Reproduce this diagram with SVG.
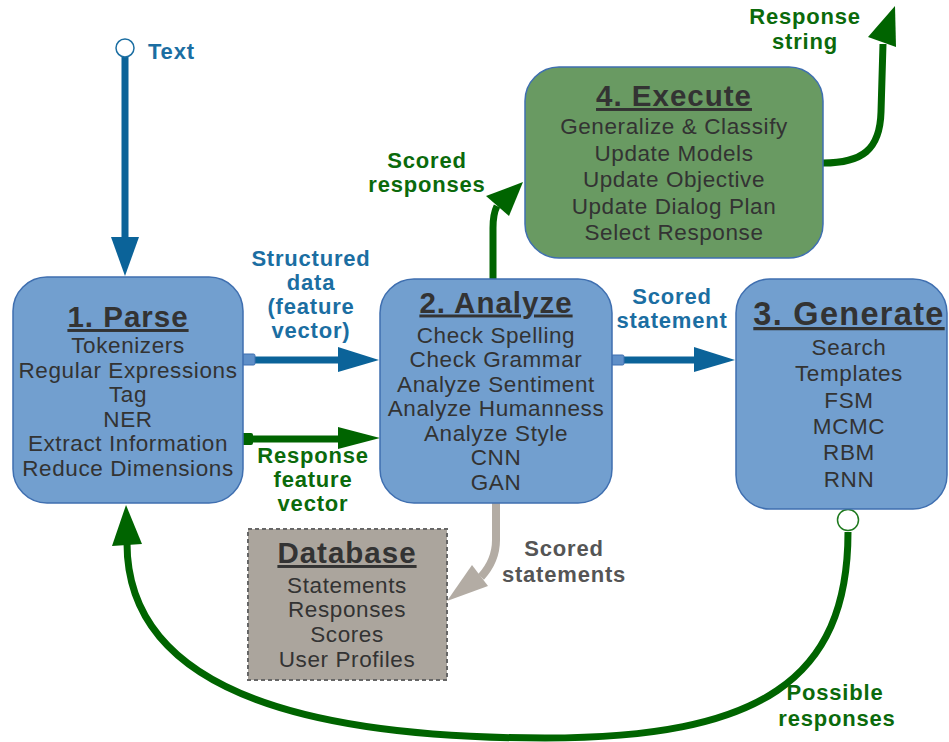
<svg xmlns="http://www.w3.org/2000/svg" width="949" height="742" viewBox="0 0 949 742">
<style>
.box{fill:#729fcf;stroke:#3f6fb0;stroke-width:1.5}
.ex{fill:#699a62;stroke:#3f6fb0;stroke-width:1.5}
.db{fill:#aba59d;stroke:#666;stroke-width:2;stroke-dasharray:4 3}
.t{font-family:"Liberation Sans",Arial,sans-serif;font-weight:bold;font-size:29.5px;letter-spacing:1px;fill:#333;text-anchor:middle;text-decoration:underline}
.b{font-family:"Liberation Sans",Arial,sans-serif;font-size:22.5px;letter-spacing:0.6px;fill:#333;text-anchor:middle}
.lb{font-family:"Liberation Sans",Arial,sans-serif;font-weight:bold;font-size:22px;letter-spacing:0.8px;text-anchor:middle}
.blue{fill:#1b6ea2}
.green{fill:#0b6a0b}
.gray{fill:#555}
.sb{stroke:#0b6399;fill:none;stroke-width:7}
.sg{stroke:#006400;fill:none;stroke-width:7}
.sgr{stroke:#b3aca4;fill:none;stroke-width:8}
</style>

<g id="connectors">
  <g id="c-text">
    <line class="sb" x1="125" y1="57" x2="125" y2="240" stroke-width="8"/>
    <polygon points="111,237 139,237 125,276" fill="#0b6399"/>
    <circle cx="125" cy="48" r="9" fill="#fff" stroke="#1b6ea2" stroke-width="1.5"/>
  </g>
  <g id="c-struct">
    <line class="sb" x1="250" y1="360" x2="340" y2="360" stroke-width="6"/>
    <rect x="242" y="354" width="13" height="11" rx="1.5" fill="#5f8fc8" stroke="#3f6fb0" stroke-width="1"/>
    <polygon points="338,347 379,360 338,372" fill="#0b6399"/>
  </g>
  <g id="c-rfv">
    <line class="sg" x1="244" y1="439" x2="340" y2="439" stroke-width="8"/>
    <rect x="241" y="433" width="12" height="12" rx="2" fill="#006400"/>
    <polygon points="338,427 380,438 338,449" fill="#006400"/>
  </g>
  <g id="c-ss">
    <line class="sb" x1="620" y1="360" x2="697" y2="360" stroke-width="6"/>
    <rect x="611" y="355" width="13" height="10" rx="1.5" fill="#5f8fc8" stroke="#3f6fb0" stroke-width="1"/>
    <polygon points="694,347 735,360 694,372" fill="#0b6399"/>
  </g>
  <g id="c-sr">
    <path class="sg" d="M 493 279 L 493 228 C 493 218 494 212 497 206"/>
    <polygon points="523,182 486,196 509,216" fill="#006400"/>
  </g>
  <g id="c-rs">
    <path class="sg" d="M 823 163 C 862 163 880 150 881 112 L 883 44"/>
    <polygon points="895,6 868,37 896,47" fill="#006400"/>
  </g>
  <g id="c-sst">
    <path class="sgr" d="M 496 503 L 496 540 C 496 555 491 566 481 577"/>
    <polygon points="447,601 472,565 488,586" fill="#b3aca4"/>
  </g>
  <g id="c-pr">
    <path class="sg" d="M 848 532 C 848 680 760 738 545 738 C 330 738 127 700 127 543"/>
    <polygon points="126,505 112,546 142,544" fill="#006400"/>
    <circle cx="848" cy="520" r="10.5" fill="#fff" stroke="#1f7a1f" stroke-width="1.5"/>
  </g>
</g>

<g id="parse">
  <rect class="box" x="13" y="277" width="230" height="226" rx="34"/>
  <text class="t" x="128" y="327">1. Parse</text>
  <text class="b" x="128" y="353">Tokenizers</text>
  <text class="b" x="128" y="377.5">Regular Expressions</text>
  <text class="b" x="128" y="402">Tag</text>
  <text class="b" x="128" y="426.5">NER</text>
  <text class="b" x="128" y="451">Extract Information</text>
  <text class="b" x="128" y="475.5">Reduce Dimensions</text>
</g>

<g id="analyze">
  <rect class="box" x="380" y="279" width="232" height="224" rx="34"/>
  <text class="t" x="496" y="312.5">2. Analyze</text>
  <text class="b" x="496" y="342.5">Check Spelling</text>
  <text class="b" x="496" y="367">Check Grammar</text>
  <text class="b" x="496" y="391.5">Analyze Sentiment</text>
  <text class="b" x="496" y="416">Analyze Humanness</text>
  <text class="b" x="496" y="440.5">Analyze Style</text>
  <text class="b" x="496" y="465">CNN</text>
  <text class="b" x="496" y="489.5">GAN</text>
</g>

<g id="generate">
  <rect class="box" x="736" y="279" width="211" height="230" rx="34"/>
  <text class="t" x="849" y="325" style="font-size:32.5px;letter-spacing:1.3px">3. Generate</text>
  <text class="b" x="849" y="355">Search</text>
  <text class="b" x="849" y="381.3">Templates</text>
  <text class="b" x="849" y="407.6">FSM</text>
  <text class="b" x="849" y="433.9">MCMC</text>
  <text class="b" x="849" y="460.2">RBM</text>
  <text class="b" x="849" y="486.5">RNN</text>
</g>

<g id="execute">
  <rect class="ex" x="525" y="67" width="298" height="191" rx="34"/>
  <text class="t" x="674" y="106">4. Execute</text>
  <text class="b" x="674" y="134">Generalize &amp; Classify</text>
  <text class="b" x="674" y="160.5">Update Models</text>
  <text class="b" x="674" y="187">Update Objective</text>
  <text class="b" x="674" y="213.5">Update Dialog Plan</text>
  <text class="b" x="674" y="240">Select Response</text>
</g>

<g id="database">
  <rect class="db" x="248" y="529" width="199" height="151"/>
  <text class="t" x="347" y="563">Database</text>
  <text class="b" x="347" y="592.5">Statements</text>
  <text class="b" x="347" y="617">Responses</text>
  <text class="b" x="347" y="642">Scores</text>
  <text class="b" x="347" y="666.5">User Profiles</text>
</g>

<g id="labels">
  <text class="lb blue" x="148" y="59" style="text-anchor:start">Text</text>
  <text class="lb blue" x="311" y="266">Structured</text>
  <text class="lb blue" x="311" y="290">data</text>
  <text class="lb blue" x="311" y="314">(feature</text>
  <text class="lb blue" x="311" y="338">vector)</text>
  <text class="lb green" x="313" y="463">Response</text>
  <text class="lb green" x="313" y="487">feature</text>
  <text class="lb green" x="313" y="511">vector</text>
  <text class="lb blue" x="672" y="304">Scored</text>
  <text class="lb blue" x="672" y="328">statement</text>
  <text class="lb green" x="427" y="168">Scored</text>
  <text class="lb green" x="427" y="192">responses</text>
  <text class="lb green" x="805" y="24">Response</text>
  <text class="lb green" x="805" y="49">string</text>
  <text class="lb gray" x="564" y="556">Scored</text>
  <text class="lb gray" x="564" y="582">statements</text>
  <text class="lb green" x="835" y="700">Possible</text>
  <text class="lb green" x="837" y="726">responses</text>
</g>
</svg>
